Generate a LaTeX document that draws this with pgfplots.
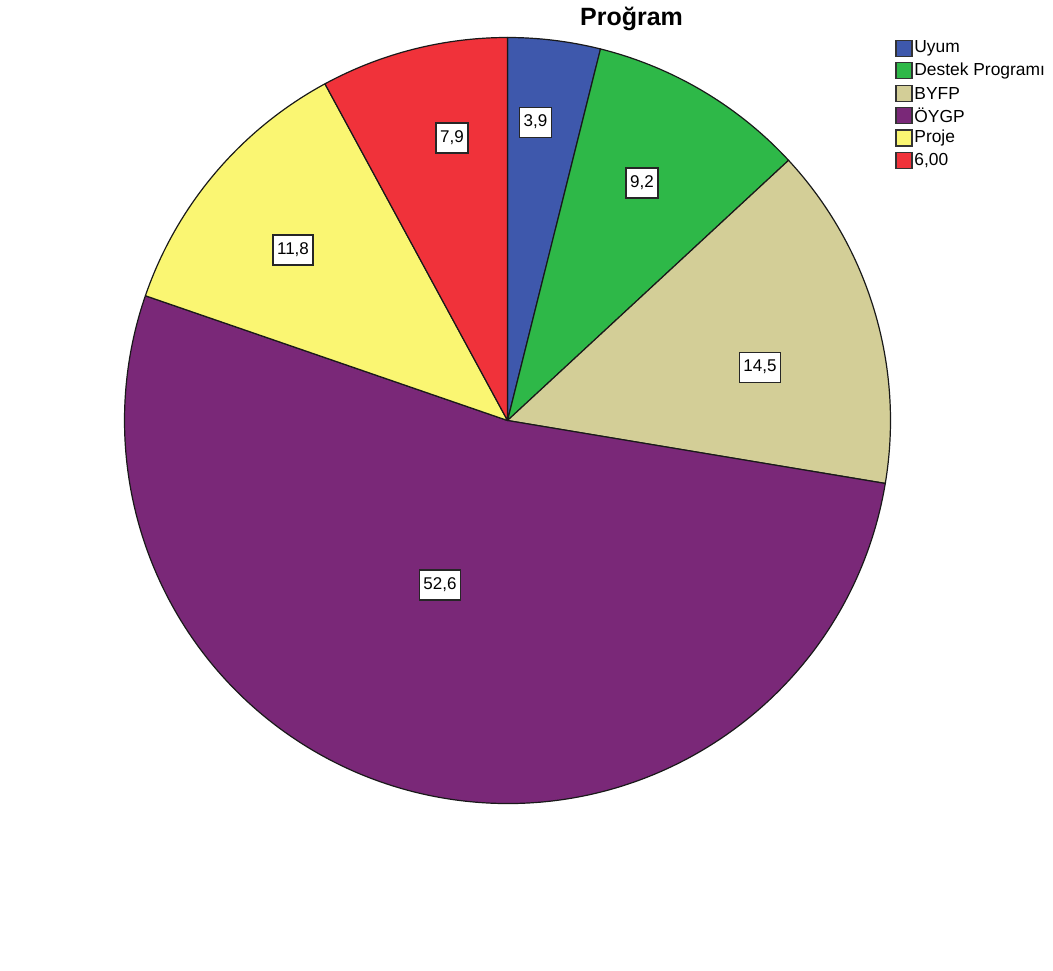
\documentclass[border=0pt]{standalone}
\usepackage{fontspec}
\setmainfont{Liberation Sans}
\usepackage{pgfplots}
\pgfplotsset{compat=1.18}
\definecolor{cUyum}{HTML}{3E58AC}
\definecolor{cDestek}{HTML}{2EB848}
\definecolor{cBYFP}{HTML}{D3CE97}
\definecolor{cOYGP}{HTML}{7A2878}
\definecolor{cProje}{HTML}{FAF672}
\definecolor{cAlti}{HTML}{F0323A}
% percentages (clockwise from 12 o'clock)
\def\pA{3.9}\def\pB{9.2}\def\pC{14.5}\def\pD{52.6}\def\pE{11.8}\def\pF{7.9}
\pgfmathsetmacro\tot{\pA+\pB+\pC+\pD+\pE+\pF}
\pgfmathsetmacro\k{360/\tot}
\pgfmathsetmacro\aO{90}
\pgfmathsetmacro\aA{90-\k*(\pA)}
\pgfmathsetmacro\aB{90-\k*(\pA+\pB)}
\pgfmathsetmacro\aC{90-\k*(\pA+\pB+\pC)}
\pgfmathsetmacro\aD{90-\k*(\pA+\pB+\pC+\pD)}
\pgfmathsetmacro\aE{90-\k*(\pA+\pB+\pC+\pD+\pE)}
\pgfmathsetmacro\aF{90-360}
\def\R{191.5pt}
\tikzset{
  wedge/.style={draw=black!90, line width=0.6pt, line join=round},
  lbl/.style={draw=black!85, fill=white, line width=0.7pt, inner xsep=2pt, inner ysep=3.6pt,
     text height=6.2pt, text depth=1.7pt, font=\fontsize{8.5}{10}\selectfont},
  lgsq/.style={draw=black!80, line width=0.6pt}
}
\newcommand{\pwedge}[3]{\filldraw[wedge, fill=#1] (axis cs:507.5,550) -- ++(#2:\R) arc[start angle=#2, end angle=#3, radius=\R] -- cycle;}
\begin{document}
\begin{tikzpicture}
\begin{axis}[x=0.5pt, y=0.5pt, xmin=0, xmax=1053, ymin=0, ymax=970,
  hide axis, clip=false]
\path (axis cs:0,0) rectangle (axis cs:1053,970);
\pwedge{cUyum}{\aO}{\aA}
\pwedge{cDestek}{\aA}{\aB}
\pwedge{cBYFP}{\aB}{\aC}
\pwedge{cOYGP}{\aC}{\aD}
\pwedge{cProje}{\aD}{\aE}
\pwedge{cAlti}{\aE}{\aF}
\node[lbl] at (axis cs:535.5,848) {3,9};
\node[lbl] at (axis cs:642,787.5) {9,2};
\node[lbl] at (axis cs:760,603) {14,5};
\node[lbl] at (axis cs:440,385.5) {52,6};
\node[lbl] at (axis cs:293,720.5) {11,8};
\node[lbl] at (axis cs:452,832.5) {7,9};
\node[font=\fontsize{12.5}{15}\selectfont\bfseries] at (axis cs:631.5,952) {Proğram};
% legend
\filldraw[lgsq, fill=cUyum]   (axis cs:896,914)   rectangle (axis cs:912,930);
\filldraw[lgsq, fill=cDestek] (axis cs:896,891.6) rectangle (axis cs:912,907.6);
\filldraw[lgsq, fill=cBYFP]   (axis cs:896,869.2) rectangle (axis cs:912,885.2);
\filldraw[lgsq, fill=cOYGP]   (axis cs:896,846.8) rectangle (axis cs:912,862.8);
\filldraw[lgsq, fill=cProje]  (axis cs:896,824.4) rectangle (axis cs:912,840.4);
\filldraw[lgsq, fill=cAlti]   (axis cs:896,802)   rectangle (axis cs:912,818);
\begin{scope}[every node/.style={anchor=west, inner sep=0pt, font=\fontsize{8.7}{10}\selectfont}]
\node at (axis cs:914,922) {Uyum};
\node at (axis cs:914,899.6) {Destek Programı};
\node at (axis cs:914,877.2) {BYFP};
\node at (axis cs:914,854.8) {ÖYGP};
\node at (axis cs:914,832.4) {Proje};
\node at (axis cs:914,810) {6,00};
\end{scope}
\end{axis}
\end{tikzpicture}
\end{document}
